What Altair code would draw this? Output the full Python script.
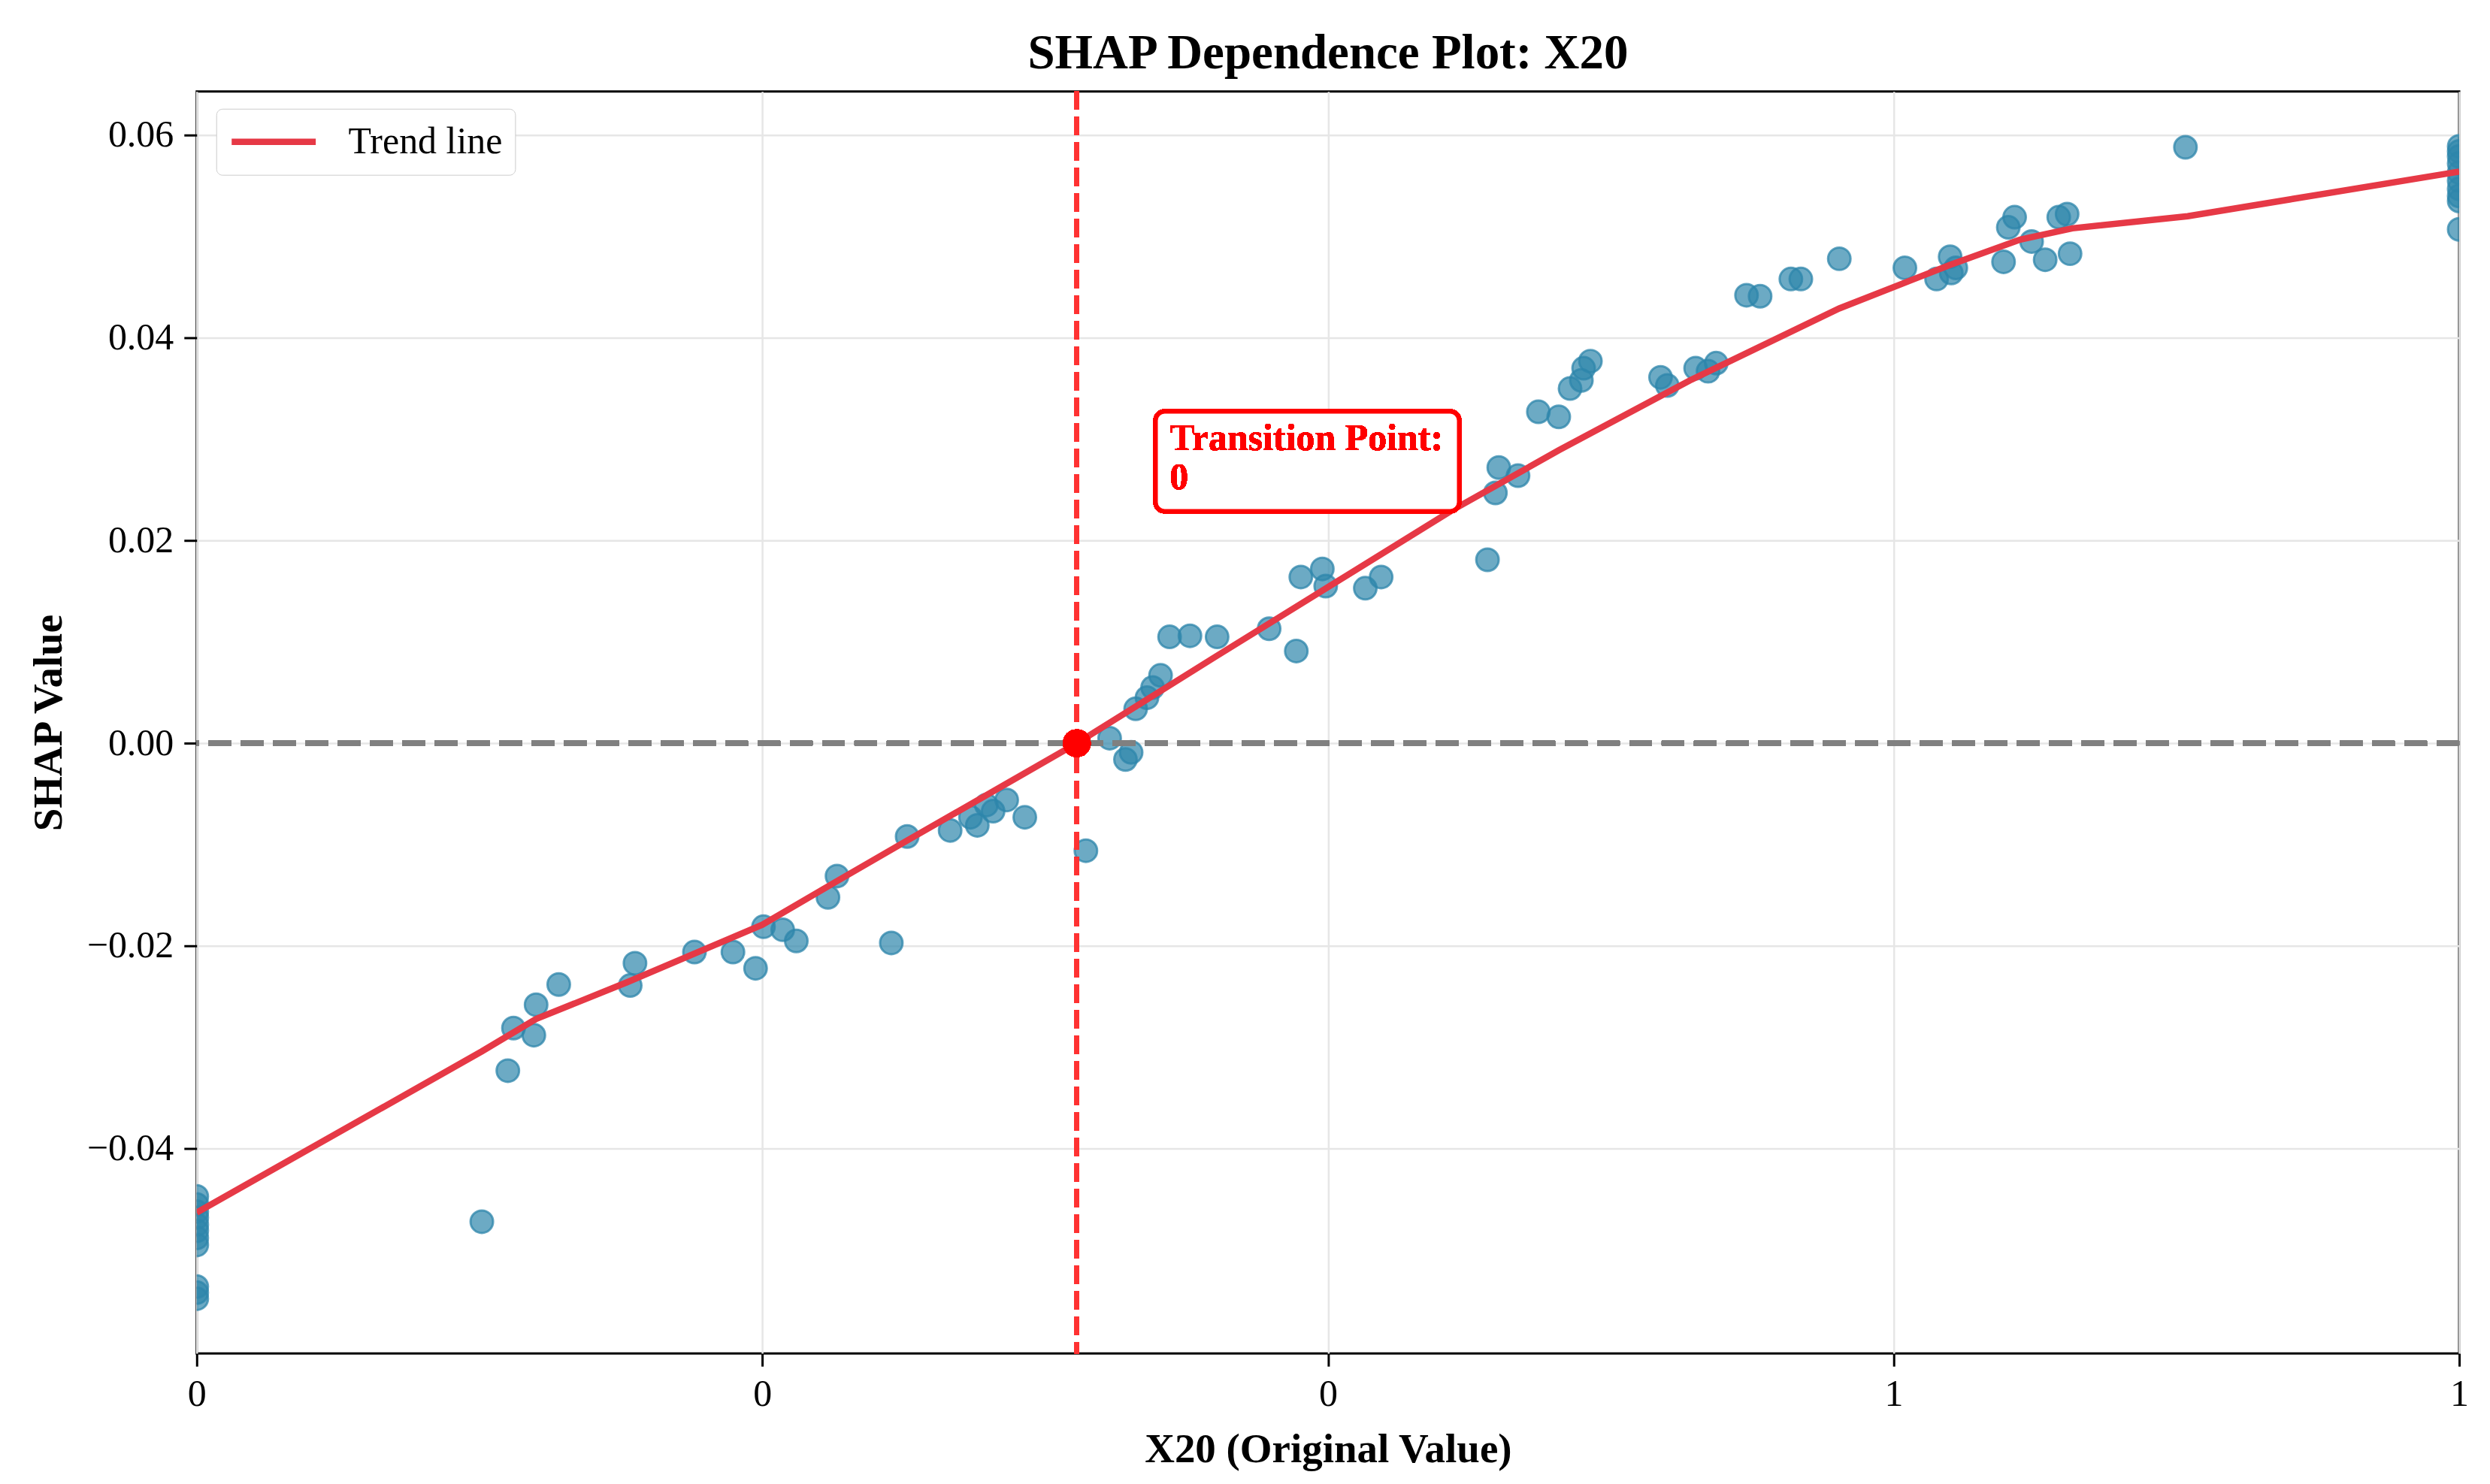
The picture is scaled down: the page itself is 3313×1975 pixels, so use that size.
import altair as alt
import pandas as pd

# ---------------- data ----------------
pt_x = [0, 0, 0, 0, 0, 0, 0, 0, 0, 0, 0,
        0.126, 0.1375, 0.140, 0.149, 0.150, 0.160, 0.1916, 0.1937, 0.220, 0.237,
        0.247, 0.2505, 0.259, 0.265, 0.279, 0.283, 0.307, 0.314, 0.333, 0.342,
        0.345, 0.349, 0.352, 0.358, 0.366, 0.393, 0.4035, 0.4105, 0.413, 0.415,
        0.420, 0.4225, 0.426, 0.430, 0.439, 0.451, 0.474, 0.486, 0.488, 0.4975,
        0.499, 0.5165, 0.5235, 0.5705, 0.574, 0.5755, 0.584, 0.593, 0.602, 0.607,
        0.612, 0.613, 0.616, 0.647, 0.650, 0.6625, 0.668, 0.6716, 0.685, 0.691,
        0.7046, 0.709, 0.726, 0.755, 0.769, 0.775, 0.7755, 0.7775, 0.7986, 0.8007,
        0.8035, 0.811, 0.817, 0.823, 0.8267, 0.828, 0.879,
        1, 1, 1, 1, 1, 1, 1, 1, 1, 1]
pt_y = [-0.0447, -0.0455, -0.0462, -0.0468, -0.0475, -0.0481, -0.0488, -0.0495, -0.0536, -0.0542, -0.0548,
        -0.0472, -0.0323, -0.0281, -0.0288, -0.0258, -0.0238, -0.0239, -0.0217, -0.0206, -0.0206,
        -0.0222, -0.0181, -0.0184, -0.0195, -0.0152, -0.0131, -0.0197, -0.0092, -0.0086, -0.0073,
        -0.0081, -0.0061, -0.0067, -0.0056, -0.0073, -0.0106, 0.0005, -0.0016, -0.0009, 0.0034,
        0.0045, 0.0055, 0.0067, 0.0105, 0.0106, 0.0105, 0.0113, 0.0091, 0.0164, 0.0172,
        0.0155, 0.0153, 0.0164, 0.0181, 0.0247, 0.0272, 0.0264, 0.0327, 0.0322, 0.0350,
        0.0358, 0.0370, 0.0377, 0.0361, 0.0353, 0.0370, 0.0367, 0.0375, 0.0442, 0.0441,
        0.0458, 0.0458, 0.0478, 0.0469, 0.0458, 0.0480, 0.0464, 0.0469, 0.0475, 0.0509,
        0.0519, 0.0495, 0.0477, 0.0519, 0.0522, 0.0483, 0.0588,
        0.0589, 0.0584, 0.0579, 0.0572, 0.0563, 0.0555, 0.0547, 0.0540, 0.0535, 0.0507]

trend_x = [0, 0.126, 0.15, 0.19, 0.25, 0.283, 0.314, 0.357, 0.389, 0.45, 0.5,
           0.555, 0.602, 0.66, 0.726, 0.775, 0.806, 0.829, 0.88, 1.0]
trend_y = [-0.0463, -0.0304, -0.0272, -0.0236, -0.0179, -0.0136, -0.0096, -0.0041, 0.0,
           0.0085, 0.0154, 0.0230, 0.0289, 0.0358, 0.0429, 0.0472, 0.0497, 0.0508, 0.0520, 0.0564]

transition_x = 0.389
transition_y = 0.0
annotation_lines = ["Transition Point:", "0"]
legend_label = "Trend line"

x_ticks = [0, 0.25, 0.5, 0.75, 1.0]
x_tick_labels = ["0", "0", "0", "1", "1"]
y_ticks = [-0.04, -0.02, 0.0, 0.02, 0.04, 0.06]

x_domain = [0, 1]
y_domain = [-0.0602, 0.0643]

# annotation box placement (data coordinates)
ann_text_x, ann_text_y = 0.430, 0.0319
ann_box = dict(x0=0.4238, x1=0.5580, y0=0.03274, y1=0.02289)

# ---------------- styles ----------------
FONT = "Liberation Serif"
PT_COLOR = "#2E86AB"
TREND_COLOR = "#E63946"

pts_df = pd.DataFrame({"x": pt_x, "y": pt_y})
trend_df = pd.DataFrame({"x": trend_x, "y": trend_y, "series": legend_label})

expr = "'" + x_tick_labels[-1] + "'"
for v, l in reversed(list(zip(x_ticks[:-1], x_tick_labels[:-1]))):
    expr = f"abs(datum.value - {v}) < 1e-9 ? '{l}' : ({expr})"

xscale = alt.Scale(domain=x_domain, nice=False, zero=False)
yscale = alt.Scale(domain=y_domain, nice=False, zero=False)

x_axis = alt.Axis(values=x_ticks, labelExpr=expr, title="X20 (Original Value)",
                  titlePadding=22, labelPadding=12, labelFlush=False)
y_axis = alt.Axis(values=y_ticks, format=".2f", title="SHAP Value",
                  titlePadding=22, labelPadding=14, labelFlush=False)

points = alt.Chart(pts_df).mark_point(
    shape="circle", filled=True, fill=PT_COLOR, fillOpacity=0.7,
    stroke=PT_COLOR, strokeOpacity=0.75, strokeWidth=3, size=900, clip=True
).encode(
    x=alt.X("x:Q", scale=xscale, axis=x_axis),
    y=alt.Y("y:Q", scale=yscale, axis=y_axis),
)

hline = alt.Chart(pts_df).mark_rule(
    color="#808080", strokeDash=[30, 13], strokeWidth=7
).encode(y=alt.datum(0))

vline = alt.Chart(pts_df).mark_rule(
    color="#FF3333", strokeOpacity=0.85, strokeDash=[24, 10], strokeWidth=6
).encode(x=alt.datum(transition_x))

trend = alt.Chart(trend_df).mark_line(strokeWidth=8.5, clip=True).encode(
    x="x:Q", y="y:Q",
    color=alt.Color("series:N",
                    scale=alt.Scale(domain=[legend_label], range=[TREND_COLOR]),
                    legend=alt.Legend(title=None, orient="none", legendX=26, legendY=23,
                                      symbolType="stroke", symbolSize=12544,
                                      symbolStrokeWidth=8.5, labelFontSize=50,
                                      labelFont=FONT, labelOffset=39, padding=16,
                                      clipHeight=56, fillColor="white",
                                      strokeColor="#cccccc", cornerRadius=8,
                                      labelColor="black", labelLimit=600)),
)

tpoint = alt.Chart(pts_df).mark_point(
    shape="circle", filled=True, fill="#FF0000", opacity=1, size=1370
).encode(x=alt.datum(transition_x), y=alt.datum(transition_y))

box = alt.Chart(pts_df).mark_rect(
    fill="white", stroke="#FF0000", strokeWidth=6, cornerRadius=12
).encode(
    x=alt.datum(ann_box["x0"]), x2=alt.datum(ann_box["x1"]),
    y=alt.datum(ann_box["y0"]), y2=alt.datum(ann_box["y1"]),
)

label = alt.Chart(pts_df).mark_text(
    align="left", baseline="top", font=FONT, fontSize=50, fontWeight="bold",
    color="#FF0000", lineHeight=52
).encode(x=alt.datum(ann_text_x), y=alt.datum(ann_text_y), text=alt.value(annotation_lines))

chart = alt.layer(points, hline, vline, trend, tpoint, box, label).properties(
    width=3013, height=1681,
    background="white",
    title=alt.TitleParams("SHAP Dependence Plot: X20", fontSize=65, font=FONT,
                          fontWeight="bold", anchor="middle", offset=14, color="black"),
    padding={"left": 29, "top": 30, "right": 20, "bottom": 5},
).configure_view(
    stroke="black", strokeWidth=3
).configure_axis(
    labelFont=FONT, labelFontSize=50, labelColor="black",
    titleFont=FONT, titleFontSize=55, titleFontWeight="bold", titleColor="black",
    tickSize=17, tickWidth=3, tickColor="black", domain=False,
    grid=True, gridColor="#e6e6e6", gridWidth=2.5,
)

chart.save("out.html", embed_options={"renderer": "svg", "actions": False})
